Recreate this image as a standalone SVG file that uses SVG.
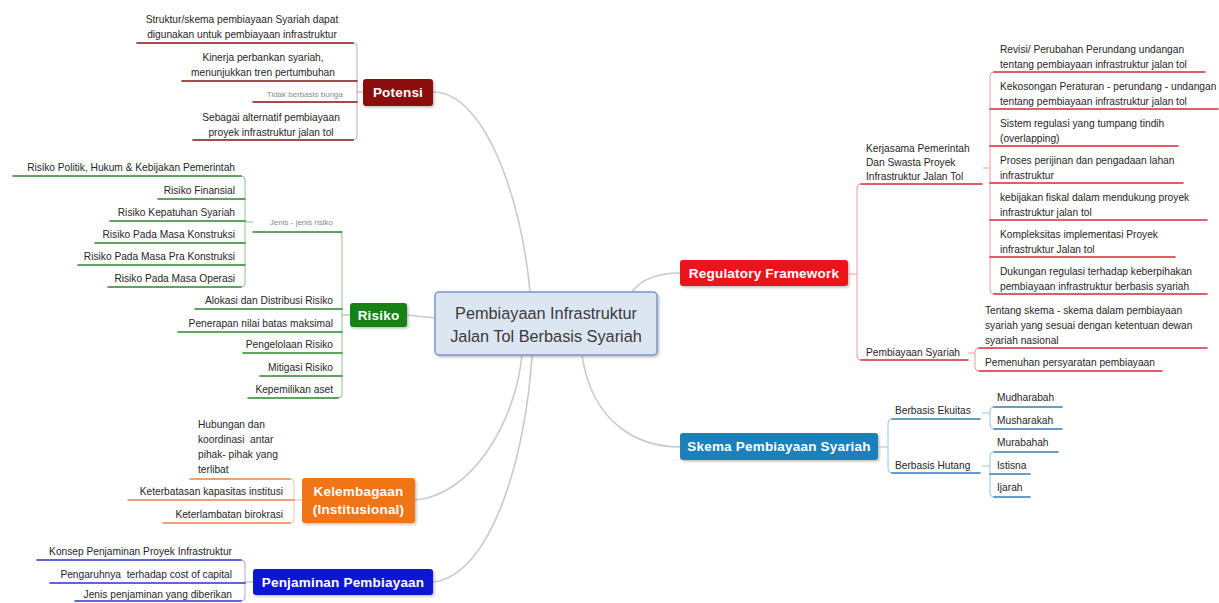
<svg xmlns="http://www.w3.org/2000/svg" width="1219" height="603" viewBox="0 0 1219 603">
<style>
text{font-family:"Liberation Sans",Arial,sans-serif;white-space:pre;}
.t{font-size:10.2px;fill:#262626;}
.tg{font-size:8px;fill:#8a8a8a;}
.mt{font-size:13.5px;font-weight:bold;fill:#ffffff;text-anchor:middle;letter-spacing:0.2px;}
.ct{font-size:16.3px;fill:#3a3a3a;text-anchor:middle;}
.e{text-anchor:end;}
.m{text-anchor:middle;}
.main{fill:none;stroke:#c9c9d2;stroke-width:1.6;}
.sp{fill:none;stroke-width:1;}
.ul{fill:none;stroke-width:1.6;stroke-linecap:round;}
.pr .ul{stroke:#7d1414;} .pr .sp{stroke:#c8a3a3;}
.gr .ul{stroke:#2d862d;} .gr .sp{stroke:#8fbf8f;}
.or .ul{stroke:#e2874a;} .or .sp{stroke:#efc3a3;}
.bl .ul{stroke:#2f35c4;} .bl .sp{stroke:#a3a6e3;}
.rd .ul{stroke:#d42a3c;} .rd .sp{stroke:#ef9aa3;}
.cy .ul{stroke:#2f80b4;} .cy .sp{stroke:#99c3de;}
</style>
<defs>
<filter id="sh" x="-10%" y="-20%" width="130%" height="150%">
<feDropShadow dx="1.5" dy="1.5" stdDeviation="1" flood-color="#000" flood-opacity="0.25"/>
</filter>
</defs>
<rect width="1219" height="603" fill="#ffffff"/>

<g id="connectors">
<path class="main" d="M433,92 C485,92 522,200 530,292"/>
<path class="main" d="M407,315 L435,318"/>
<path class="main" d="M632,292 C642,278 660,273 680,273"/>
<path class="main" d="M582,355 C592,425 640,447 680,447"/>
<path class="main" d="M415,500 C470,496 515,425 522,355"/>
<path class="main" d="M433,582 C492,575 526,455 532,355"/>
</g>

<g id="center">
<rect x="435" y="292" width="222" height="63" rx="4" fill="#dce6f2" stroke="#7a96c6" stroke-width="1.5" filter="url(#sh)"/>
<text class="ct" x="546" y="318.5">Pembiayaan Infrastruktur</text>
<text class="ct" x="546" y="341.5">Jalan Tol Berbasis Syariah</text>
</g>

<g id="potensi" class="pr">
<rect x="363" y="79" width="70" height="27" rx="3" fill="#8b1010" filter="url(#sh)"/>
<text class="mt" x="398" y="97">Potensi</text>
<path class="sp" d="M353,43 Q357,43 357,47 L357,136 Q357,140 353,140 M357,92 L363,92"/>
<path class="ul" d="M137,43 L353,43 M182,81 L357,81 M253,102 L357,102 M193,140 L353,140"/>
<text class="t m" x="242" y="23">Struktur/skema pembiayaan Syariah dapat</text>
<text class="t m" x="242" y="38">digunakan untuk pembiayaan infrastruktur</text>
<text class="t m" x="263" y="61">Kinerja perbankan syariah,</text>
<text class="t m" x="263" y="76">menunjukkan tren pertumbuhan</text>
<text class="tg e" x="343" y="97">Tidak berbasis bunga</text>
<text class="t m" x="271" y="121">Sebagai alternatif pembiayaan</text>
<text class="t m" x="271" y="135.5">proyek infrastruktur jalan tol</text>
</g>

<g id="risiko" class="gr">
<rect x="350" y="303" width="57" height="24" rx="3" fill="#178217" filter="url(#sh)"/>
<text class="mt" x="378.5" y="320">Risiko</text>
<path class="sp" d="M338,232 Q342,232 342,236 L342,394 Q342,398 338,398 M342,315 L350,315"/>
<path class="ul" d="M253,232 L342,232 M195,309 L342,309 M178,332 L342,332 M243,353 L342,353 M260,376 L342,376 M248,398 L338,398"/>
<text class="tg e" x="333" y="225">Jenis - jenis risiko</text>
<text class="t e" x="333" y="304">Alokasi dan Distribusi Risiko</text>
<text class="t e" x="333" y="327">Penerapan nilai batas maksimal</text>
<text class="t e" x="333" y="348">Pengelolaan Risiko</text>
<text class="t e" x="333" y="371">Mitigasi Risiko</text>
<text class="t e" x="333" y="393">Kepemilikan aset</text>
<path class="sp" d="M241,176 Q245,176 245,180 L245,283 Q245,287 241,287 M245,222 L253,222"/>
<path class="ul" d="M13,176 L241,176 M158,199 L245,199 M110,221 L245,221 M95,243 L245,243 M78,265 L245,265 M108,287 L241,287"/>
<text class="t e" x="235" y="171">Risiko Politik, Hukum &amp; Kebijakan Pemerintah</text>
<text class="t e" x="235" y="194">Risiko Finansial</text>
<text class="t e" x="235" y="216">Risiko Kepatuhan Syariah</text>
<text class="t e" x="235" y="238">Risiko Pada Masa Konstruksi</text>
<text class="t e" x="235" y="260">Risiko Pada Masa Pra Konstruksi</text>
<text class="t e" x="235" y="282">Risiko Pada Masa Operasi</text>
</g>

<g id="kelembagaan" class="or">
<rect x="302" y="478" width="113" height="45" rx="3" fill="#f07417" filter="url(#sh)"/>
<text class="mt" x="358.5" y="496">Kelembagaan</text>
<text class="mt" x="358.5" y="514">(Institusional)</text>
<path class="sp" d="M290,479 Q294,479 294,483 L294,519 Q294,523 290,523 M294,500 L302,500"/>
<path class="ul" d="M190,479 L290,479 M128,500 L294,500 M163,523 L290,523"/>
<text class="t" x="198" y="427.5">Hubungan dan</text>
<text class="t" x="198" y="442.5" xml:space="preserve">koordinasi  antar</text>
<text class="t" x="198" y="457.5">pihak- pihak yang</text>
<text class="t" x="198" y="472.5">terlibat</text>
<text class="t e" x="283" y="495">Keterbatasan kapasitas institusi</text>
<text class="t e" x="283" y="518">Keterlambatan birokrasi</text>
</g>

<g id="penjaminan" class="bl">
<rect x="253" y="569" width="180" height="26" rx="3" fill="#0b12d6" filter="url(#sh)"/>
<text class="mt" x="343" y="587">Penjaminan Pembiayaan</text>
<path class="sp" d="M241,560 Q245,560 245,564 L245,597 Q245,601 241,601 M245,582 L253,582"/>
<path class="ul" d="M37,560 L241,560 M50,583 L245,583 M75,601 L241,601"/>
<text class="t e" x="232" y="555">Konsep Penjaminan Proyek Infrastruktur</text>
<text class="t e" x="232" y="578" xml:space="preserve">Pengaruhnya  terhadap cost of capital</text>
<text class="t e" x="232" y="597.5">Jenis penjaminan yang diberikan</text>
</g>

<g id="regulatory" class="rd">
<rect x="680" y="260" width="168" height="26" rx="3" fill="#e8141c" filter="url(#sh)"/>
<text class="mt" x="764" y="278">Regulatory Framework</text>
<path class="sp" d="M861,184 Q857,184 857,188 L857,356 Q857,360 861,360 M848,274 L857,274"/>
<path class="ul" d="M861,184 L982,184 M861,360 L968,360"/>
<text class="t" x="866" y="152">Kerjasama Pemerintah</text>
<text class="t" x="866" y="166">Dan Swasta Proyek</text>
<text class="t" x="866" y="180">Infrastruktur Jalan Tol</text>
<text class="t" x="866" y="355.5">Pembiayaan Syariah</text>
<path class="sp" d="M994,72 Q990,72 990,76 L990,290 Q990,294 994,294 M983,168 L990,168"/>
<path class="ul" d="M994,72 L1205,72 M990,109 L1218,109 M990,146 L1178,146 M990,183 L1183,183 M990,220 L1207,220 M990,257 L1175,257 M994,294 L1207,294"/>
<text class="t" x="1000" y="52.5">Revisi/ Perubahan Perundang undangan</text>
<text class="t" x="1000" y="67.5">tentang pembiayaan infrastruktur jalan tol</text>
<text class="t" x="1000" y="90">Kekosongan Peraturan - perundang - undangan</text>
<text class="t" x="1000" y="104.5">tentang pembiayaan infrastruktur jalan tol</text>
<text class="t" x="1000" y="126.5">Sistem regulasi yang tumpang tindih</text>
<text class="t" x="1000" y="141.5">(overlapping)</text>
<text class="t" x="1000" y="163.5">Proses perijinan dan pengadaan lahan</text>
<text class="t" x="1000" y="178.5">infrastruktur</text>
<text class="t" x="1000" y="200.5">kebijakan fiskal dalam mendukung proyek</text>
<text class="t" x="1000" y="215.5">infrastruktur jalan tol</text>
<text class="t" x="1000" y="237.5">Kompleksitas implementasi Proyek</text>
<text class="t" x="1000" y="252.5">infrastruktur Jalan tol</text>
<text class="t" x="1000" y="274.5">Dukungan regulasi terhadap keberpihakan</text>
<text class="t" x="1000" y="289.5">pembiayaan infrastruktur berbasis syariah</text>
<path class="sp" d="M979,348 Q975,348 975,352 L975,367 Q975,371 979,371 M968,353 L975,353"/>
<path class="ul" d="M979,348 L1207,348 M979,371 L1162,371"/>
<text class="t" x="985" y="314">Tentang skema - skema dalam pembiayaan</text>
<text class="t" x="985" y="329">syariah yang sesuai dengan ketentuan dewan</text>
<text class="t" x="985" y="344">syariah nasional</text>
<text class="t" x="985" y="366">Pemenuhan persyaratan pembiayaan</text>
</g>

<g id="skema" class="cy">
<rect x="680" y="433" width="198" height="27" rx="3" fill="#1a80bb" filter="url(#sh)"/>
<text class="mt" x="779" y="451">Skema Pembiayaan Syariah</text>
<path class="sp" d="M892,419 Q888,419 888,423 L888,469 Q888,473 892,473 M878,447 L888,447"/>
<path class="ul" d="M892,419 L980,419 M892,473 L980,473"/>
<text class="t" x="895" y="413.5">Berbasis Ekuitas</text>
<text class="t" x="895" y="468.5">Berbasis Hutang</text>
<path class="sp" d="M994,407 Q990,407 990,411 L990,425 Q990,429 994,429 M982,413 L990,413"/>
<path class="ul" d="M994,407 L1062,407 M994,429 L1062,429"/>
<text class="t" x="997" y="401">Mudharabah</text>
<text class="t" x="997" y="424">Musharakah</text>
<path class="sp" d="M994,452 Q990,452 990,456 L990,493 Q990,497 994,497 M982,466 L990,466"/>
<path class="ul" d="M994,452 L1058,452 M990,474 L1030,474 M994,497 L1030,497"/>
<text class="t" x="997" y="446">Murabahah</text>
<text class="t" x="997" y="468.5">Istisna</text>
<text class="t" x="997" y="491">Ijarah</text>
</g>
</svg>
